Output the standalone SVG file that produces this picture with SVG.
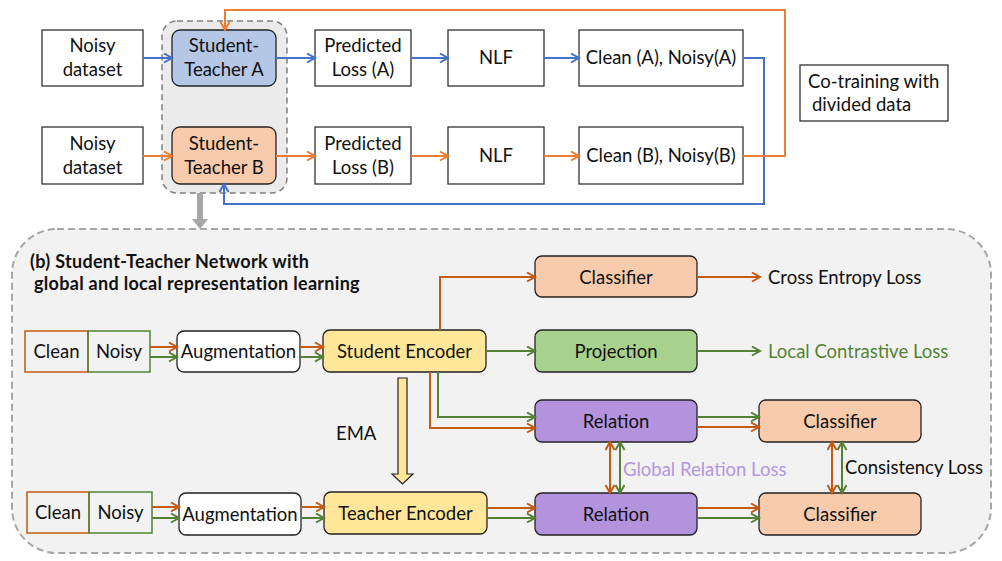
<svg xmlns="http://www.w3.org/2000/svg" width="1002" height="561" viewBox="0 0 1002 561">
<defs>
<style>
text{font-family:Lato,"Open Sans","Liberation Sans",sans-serif;font-size:18.5px;fill:#111;}
.c{text-anchor:middle;}
.bx{fill:#fff;stroke:#333;stroke-width:1.3;}
.rb{stroke:#222;stroke-width:1.3;}
.cn{fill:none;stroke-width:2;}
.bl{stroke:#4472c4;}
.or{stroke:#ed7d31;}
.od{stroke:#c55a11;}
.gr{stroke:#548235;}
.t{font-weight:bold;font-size:18px;letter-spacing:0.3px;}
</style>
<marker id="mb" markerUnits="userSpaceOnUse" markerWidth="12" markerHeight="12" refX="9" refY="5" orient="auto-start-reverse"><path d="M1,0.5 L9,5 L1,9.5" fill="none" stroke="#4472c4" stroke-width="2"/></marker>
<marker id="mo" markerUnits="userSpaceOnUse" markerWidth="12" markerHeight="12" refX="9" refY="5" orient="auto-start-reverse"><path d="M1,0.5 L9,5 L1,9.5" fill="none" stroke="#ed7d31" stroke-width="2"/></marker>
<marker id="md" markerUnits="userSpaceOnUse" markerWidth="12" markerHeight="12" refX="9" refY="5" orient="auto-start-reverse"><path d="M1,0.5 L9,5 L1,9.5" fill="none" stroke="#c55a11" stroke-width="2"/></marker>
<marker id="mg" markerUnits="userSpaceOnUse" markerWidth="12" markerHeight="12" refX="9" refY="5" orient="auto-start-reverse"><path d="M1,0.5 L9,5 L1,9.5" fill="none" stroke="#548235" stroke-width="2"/></marker>
</defs>
<rect width="1002" height="561" fill="#fff"/>

<!-- top group -->
<g id="st-group"><rect x="162" y="21" width="125" height="172" rx="15" fill="#ebebeb" stroke="#7f7f7f" stroke-width="1.5" stroke-dasharray="6,4"/></g>
<g id="noisyA"><rect class="bx" x="42" y="30" width="101" height="56"/><text class="c" x="92.5" y="52">Noisy</text><text class="c" x="92.5" y="76">dataset</text></g>
<g id="stA"><rect class="rb" x="172" y="30" width="104" height="56" rx="8" fill="#b4c7e7"/><text class="c" x="224" y="52">Student-</text><text class="c" x="224" y="76">Teacher A</text></g>
<g id="predA"><rect class="bx" x="315" y="30" width="96" height="56"/><text class="c" x="363" y="52">Predicted</text><text class="c" x="363" y="76">Loss (A)</text></g>
<g id="nlfA"><rect class="bx" x="448" y="30" width="96" height="56"/><text class="c" x="496" y="64">NLF</text></g>
<g id="cleanA"><rect class="bx" x="579" y="30" width="164" height="56"/><text class="c" x="661" y="64">Clean (A), Noisy(A)</text></g>
<g id="noisyB"><rect class="bx" x="42" y="127" width="101" height="57"/><text class="c" x="92.5" y="150">Noisy</text><text class="c" x="92.5" y="174">dataset</text></g>
<g id="stB"><rect class="rb" x="172" y="127" width="104" height="57" rx="8" fill="#f8cbad"/><text class="c" x="224" y="150">Student-</text><text class="c" x="224" y="174">Teacher B</text></g>
<g id="predB"><rect class="bx" x="315" y="127" width="96" height="57"/><text class="c" x="363" y="150">Predicted</text><text class="c" x="363" y="174">Loss (B)</text></g>
<g id="nlfB"><rect class="bx" x="448" y="127" width="96" height="57"/><text class="c" x="496" y="162">NLF</text></g>
<g id="cleanB"><rect class="bx" x="579" y="127" width="164" height="57"/><text class="c" x="661" y="162">Clean (B), Noisy(B)</text></g>
<g id="cotrain"><rect class="bx" x="800" y="65" width="148" height="56"/><text x="808" y="88">Co-training with</text><text x="812" y="111">divided data</text></g>

<!-- bottom panel -->
<g id="panel-b"><rect x="12" y="229" width="979" height="324" rx="45" fill="#f2f2f2" stroke="#a6a6a6" stroke-width="2" stroke-dasharray="7,4"/>
<text class="t" x="30" y="268">(b) Student-Teacher Network with</text><text class="t" x="34" y="290">global and local representation learning</text></g>

<g id="cleanS"><rect x="25" y="331" width="63" height="41" fill="none" stroke="#c55a11" stroke-width="1.5"/><text class="c" x="56.5" y="358">Clean</text></g>
<g id="noisyS"><rect x="88" y="331" width="62" height="41" fill="none" stroke="#548235" stroke-width="1.5"/><text class="c" x="119" y="358">Noisy</text></g>
<g id="augS"><rect class="rb" x="177" y="331" width="123" height="41" rx="7" fill="#fff"/><text class="c" x="238.5" y="358">Augmentation</text></g>
<g id="encS"><rect class="rb" x="323" y="330" width="163" height="42" rx="7" fill="#ffe699"/><text class="c" x="404.5" y="358">Student Encoder</text></g>
<g id="clsTop"><rect class="rb" x="535" y="256" width="162" height="41" rx="7" fill="#f8cbad"/><text class="c" x="616" y="284">Classifier</text></g>
<g id="proj"><rect class="rb" x="535" y="330" width="162" height="42" rx="7" fill="#a9d18e"/><text class="c" x="616" y="358">Projection</text></g>
<g id="relS"><rect class="rb" x="535" y="400" width="162" height="42" rx="7" fill="#b392de"/><text class="c" x="616" y="428">Relation</text></g>
<g id="clsS"><rect class="rb" x="759" y="400" width="162" height="42" rx="7" fill="#f8cbad"/><text class="c" x="840" y="428">Classifier</text></g>
<g id="cleanT"><rect x="27" y="492" width="62" height="41" fill="none" stroke="#c55a11" stroke-width="1.5"/><text class="c" x="58" y="519">Clean</text></g>
<g id="noisyT"><rect x="89" y="492" width="63" height="41" fill="none" stroke="#548235" stroke-width="1.5"/><text class="c" x="120.5" y="519">Noisy</text></g>
<g id="augT"><rect class="rb" x="179" y="493" width="122" height="42" rx="7" fill="#fff"/><text class="c" x="240" y="521">Augmentation</text></g>
<g id="encT"><rect class="rb" x="324" y="492" width="163" height="42" rx="7" fill="#ffe699"/><text class="c" x="405.5" y="520">Teacher Encoder</text></g>
<g id="relT"><rect class="rb" x="535" y="493" width="162" height="42" rx="7" fill="#b392de"/><text class="c" x="616" y="521">Relation</text></g>
<g id="clsT"><rect class="rb" x="759" y="493" width="162" height="42" rx="7" fill="#f8cbad"/><text class="c" x="840" y="521">Classifier</text></g>

<g id="labels">
<text x="768" y="284">Cross Entropy Loss</text>
<text x="768" y="358" style="fill:#548235">Local Contrastive Loss</text>
<text x="623" y="476" style="fill:#b497e0">Global Relation Loss</text>
<text x="845" y="474">Consistency Loss</text>
<text x="336" y="440">EMA</text>
</g>

<g id="connectors">
<path class="cn bl" d="M143,58 H172" marker-end="url(#mb)"/>
<path class="cn bl" d="M276,58 H315" marker-end="url(#mb)"/>
<path class="cn bl" d="M411,58 H448" marker-end="url(#mb)"/>
<path class="cn bl" d="M544,58 H579" marker-end="url(#mb)"/>
<path class="cn bl" d="M743,58 H764 V204 H224 V184" marker-end="url(#mb)"/>
<path class="cn or" d="M143,156 H172" marker-end="url(#mo)"/>
<path class="cn or" d="M276,156 H315" marker-end="url(#mo)"/>
<path class="cn or" d="M411,156 H448" marker-end="url(#mo)"/>
<path class="cn or" d="M544,156 H579" marker-end="url(#mo)"/>
<path class="cn or" d="M743,156 H785 V10 H225 V30" marker-end="url(#mo)"/>
<path d="M197,193 H203 V219 H208 L200,229 L192,219 H197 Z" fill="#a6a6a6"/>

<path class="cn od" d="M150,347 H177" marker-end="url(#md)"/>
<path class="cn gr" d="M150,357 H177" marker-end="url(#mg)"/>
<path class="cn od" d="M300,347 H323" marker-end="url(#md)"/>
<path class="cn gr" d="M300,357 H323" marker-end="url(#mg)"/>
<path class="cn od" d="M440,330 V277 H535" marker-end="url(#md)"/>
<path class="cn od" d="M697,277 H760" marker-end="url(#md)"/>
<path class="cn gr" d="M486,351 H535" marker-end="url(#mg)"/>
<path class="cn gr" d="M697,351 H760" marker-end="url(#mg)"/>
<path class="cn od" d="M430,372 V428 H535" marker-end="url(#md)"/>
<path class="cn gr" d="M438,372 V417 H535" marker-end="url(#mg)"/>
<path class="cn gr" d="M697,417 H759" marker-end="url(#mg)"/>
<path class="cn od" d="M697,427 H759" marker-end="url(#md)"/>

<path class="cn od" d="M152,507 H179" marker-end="url(#md)"/>
<path class="cn gr" d="M152,518 H179" marker-end="url(#mg)"/>
<path class="cn od" d="M301,507 H324" marker-end="url(#md)"/>
<path class="cn gr" d="M301,518 H324" marker-end="url(#mg)"/>
<path class="cn od" d="M487,508 H535" marker-end="url(#md)"/>
<path class="cn gr" d="M487,518 H535" marker-end="url(#mg)"/>
<path class="cn od" d="M697,508 H759" marker-end="url(#md)"/>
<path class="cn gr" d="M697,518 H759" marker-end="url(#mg)"/>

<path class="cn od" d="M610,442 V493" marker-start="url(#md)" marker-end="url(#md)"/>
<path class="cn gr" d="M620,442 V493" marker-start="url(#mg)" marker-end="url(#mg)"/>
<path class="cn od" d="M832,442 V493" marker-start="url(#md)" marker-end="url(#md)"/>
<path class="cn gr" d="M842,442 V493" marker-start="url(#mg)" marker-end="url(#mg)"/>

<path d="M398,378 H407 V474 H413 L402.5,484 L392,474 H398 Z" fill="#ffe699" stroke="#222" stroke-width="1.2"/>
</g>
</svg>
